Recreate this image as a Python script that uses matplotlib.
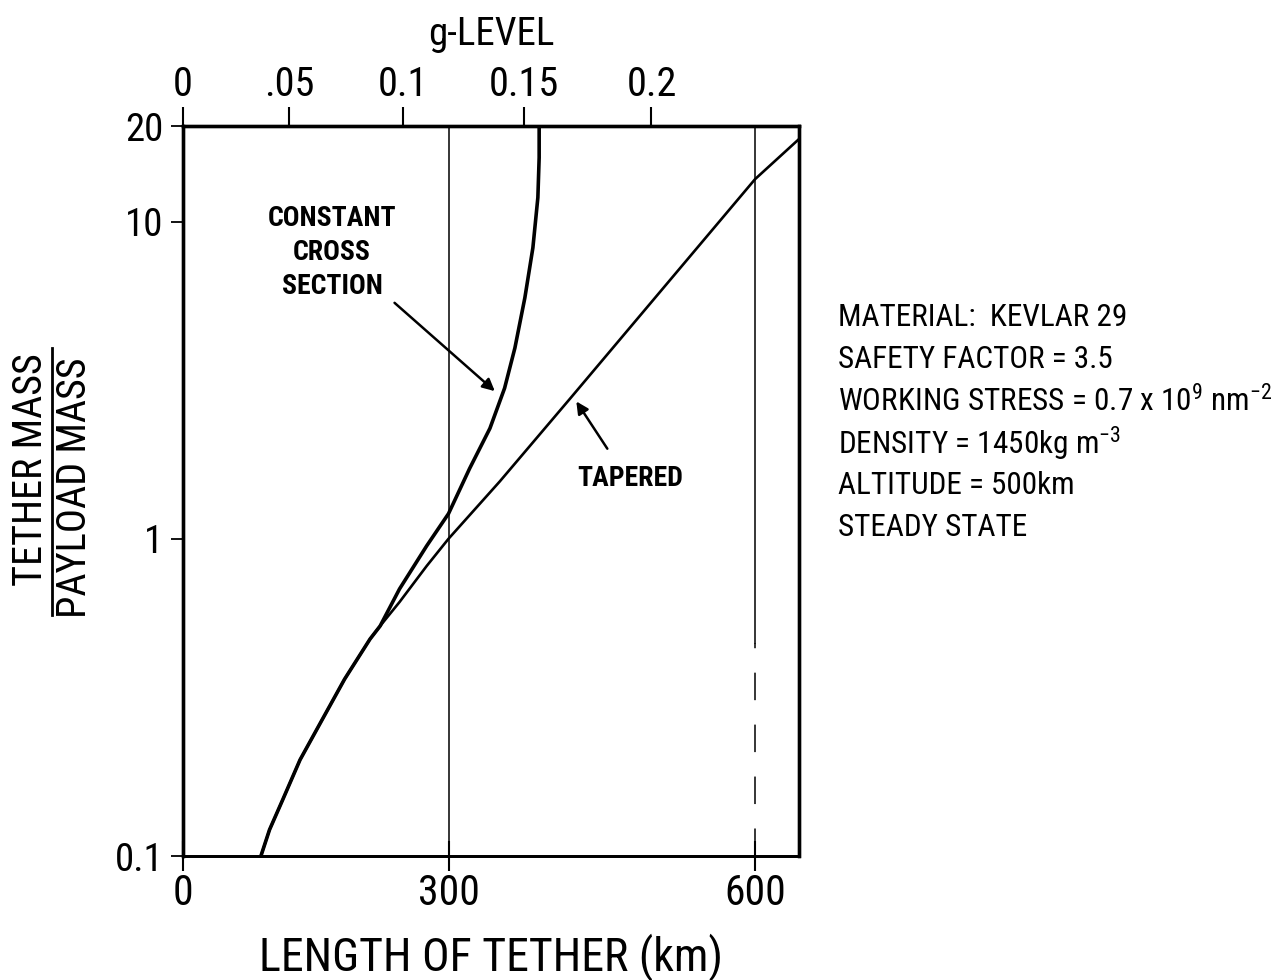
import numpy as np
import matplotlib
matplotlib.use("Agg")
import matplotlib.pyplot as plt
from matplotlib.lines import Line2D

plt.rcParams['font.family'] = ['Roboto Condensed', 'Roboto', 'DejaVu Sans']
plt.rcParams['mathtext.fontset'] = 'custom'
plt.rcParams['mathtext.rm'] = 'Roboto Condensed'

# values (km, tether mass / payload mass)
common_km = [93, 103, 118, 138, 163, 188, 216, 227]
common_ratio = [0.1, 0.121, 0.150, 0.201, 0.269, 0.361, 0.483, 0.531]
constant_km = [248, 277, 300, 322, 343, 358, 368.5, 378.6, 386.7, 391.7, 393, 393]
constant_ratio = [0.695, 0.95, 1.2, 1.665, 2.229, 2.983, 3.994, 5.75, 8.27, 11.9, 15.9, 20]
tapered_km = [248, 277, 300, 353, 424, 600, 640]
tapered_ratio = [0.632, 0.821, 1.0, 1.515, 2.77, 13.6, 18.2]

x_ticks = [0, 300, 600]
y_ticks = [0.1, 1, 10, 20]
y_labels = ['0.1', '1', '10', '20']
g_ticks = [0, 0.05, 0.1, 0.15, 0.2]
g_labels = ['0', '.05', '0.1', '0.15', '0.2']
km_per_g = 2515.0

notes = ["MATERIAL:  KEVLAR 29",
         "SAFETY FACTOR = 3.5",
         r"WORKING STRESS = 0.7 x 10$^{9}$ nm$^{-2}$",
         r"DENSITY = 1450kg m$^{-3}$",
         "ALTITUDE = 500km",
         "STEADY STATE"]

# the original sheet is slightly stretched to the right
k = 2.789e-4
def fwd(x):
    x = np.asarray(x, dtype=float)
    return x + k * x * x
def inv(f):
    f = np.asarray(f, dtype=float)
    return (-1 + np.sqrt(np.maximum(1 + 4 * k * f, 0))) / (2 * k)

fig = plt.figure(figsize=(12.84, 9.8), dpi=100)
ax = fig.add_axes([0.1425, 0.1265, 0.4798, 0.7449])
ax.set_xscale('function', functions=(fwd, inv))
ax.set_yscale('log')
ax.set_xlim(0, 640)
ax.set_ylim(0.1, 20)

ax.plot(common_km + constant_km, common_ratio + constant_ratio, color='black', lw=2.6)
ax.plot(common_km + tapered_km, common_ratio + tapered_ratio, color='black', lw=1.9)

ax.plot([300, 300], [0.1, 20], color='black', lw=1.1)
ax.plot([600, 600], [0.47, 20], color='black', lw=1.1)
ax.plot([600, 600], [0.1, 0.47], color='black', lw=1.1, dashes=(18, 16))

for s in ax.spines.values():
    s.set_linewidth(2.4)
ax.spines['bottom'].set_linewidth(2.0)

ax.set_xticks(x_ticks)
ax.set_xticklabels([str(v) for v in x_ticks], fontsize=30)
ax.set_yticks(y_ticks)
ax.set_yticklabels(y_labels, fontsize=28)
ax.minorticks_off()
ax.tick_params(axis='x', direction='inout', length=22, width=1.5, pad=1)
ax.tick_params(axis='y', direction='out', length=9, width=1.3, pad=5)
ax.set_xlabel('LENGTH OF TETHER (km)', fontsize=33, labelpad=14)

# g-level scale on top
top = ax.twiny()
top.set_xscale('function', functions=(fwd, inv))
top.set_xlim(0, 640)
top.set_xticks([g * km_per_g for g in g_ticks])
top.set_xticklabels(g_labels, fontsize=29)
top.minorticks_off()
top.tick_params(axis='x', direction='out', length=14, width=1.5, pad=2)
for s in top.spines.values():
    s.set_linewidth(2.4)
top.spines['bottom'].set_linewidth(2.0)
top.set_xlabel('g-LEVEL', fontsize=28, labelpad=14)

# y label as a stacked fraction
fig.text(31 / 1284, 1 - 470 / 980, 'TETHER MASS', rotation=90, fontsize=29,
         ha='center', va='center')
fig.text(75 / 1284, 1 - 488 / 980, 'PAYLOAD MASS', rotation=90, fontsize=29,
         ha='center', va='center')
fig.add_artist(Line2D([52 / 1284, 52 / 1284], [1 - 348 / 980, 1 - 615 / 980],
                      color='black', lw=2.0, transform=fig.transFigure))

ax.annotate('CONSTANT\nCROSS\nSECTION', xy=(348, 2.92), xytext=(174, 7.98),
            ha='center', va='center', fontsize=20, fontweight='bold',
            linespacing=1.33,
            arrowprops=dict(arrowstyle='-|>', color='black', lw=1.8,
                            mutation_scale=18, shrinkA=0, shrinkB=0,
                            relpos=(0.92, 0.05)))
ax.annotate('TAPERED', xy=(430, 2.71), xytext=(483, 1.55),
            ha='center', va='center', fontsize=20, fontweight='bold',
            arrowprops=dict(arrowstyle='-|>', color='black', lw=1.8,
                            mutation_scale=18, shrinkA=0, shrinkB=0,
                            relpos=(0.28, 1.6)))

y0 = 1 - 317 / 980
for i, line in enumerate(notes):
    fig.text(838 / 1284, y0 - i * 42.2 / 980, line, fontsize=22.5,
             ha='left', va='center')

fig.savefig('out.png', dpi=100)
